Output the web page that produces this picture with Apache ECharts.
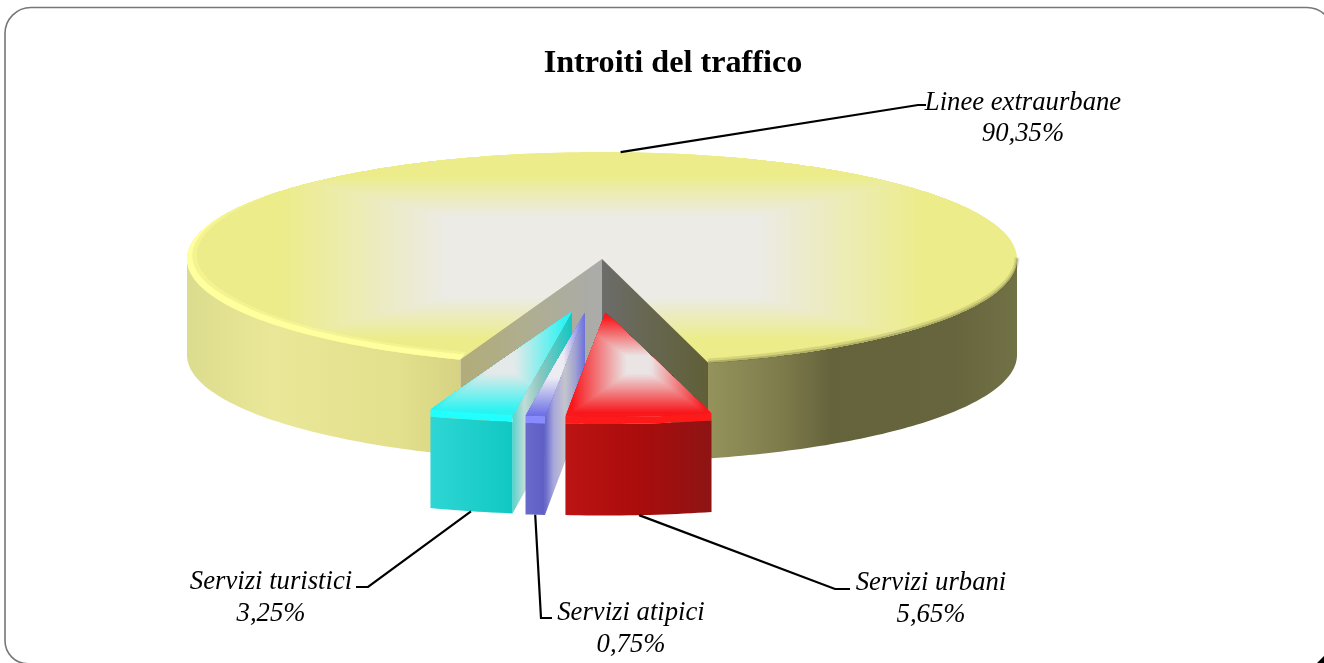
<!DOCTYPE html>
<html>
<head>
<meta charset="utf-8">
<style>html,body{margin:0;padding:0;background:#fff}#c{width:1324px;height:663px}</style>
<script src="https://cdn.jsdelivr.net/npm/echarts@6/dist/echarts.min.js"></script>
</head>
<body>
<div id="c"></div>
<script>
// ---- data (clockwise, starting from the right-hand cut of the big slice) ----
const categories = ['Servizi urbani', 'Servizi atipici', 'Servizi turistici', 'Linee extraurbane'];
const values = [5.65, 0.75, 3.25, 90.35];
const chartTitle = 'Introiti del traffico';

// ---- layout ----
const pie = {cx: 602, cy: 259, rx: 415, ry: 107, depth: 96, sliceDepth: 98.5, bevel: 7, start: 14.8};
const drawOrder = [3, 2, 1, 0];
const explode = [[3.5, 51], [-17, 51], [-30, 50], [0, 0]];
const labelAt = [[931, 599], [631, 629], [271, 598], [1023, 118.5]];
const knee = [[[835, 589], [850, 589]], [[541, 618], [552, 618]], [[368, 587], [356, 587]], [[918, 105], [926, 105]]];
const faces = [
  {edge: '#f8181c', mid: '#ebe4e4', inner: .16, outer: .9, bevel: '#ff1a1a',
   front: [[0, '#bc1414'], [.5, '#aa0c0c'], [1, '#8e1414']]},
  {edge: '#6f72e6', mid: '#ececf2', inner: .25, outer: .95, bevel: '#8a8aff',
   front: [[0, '#6a6acc'], [1, '#5e5ec4']],
   wall: [[0, '#6464cc'], [.22, '#a8a8dc'], [.5, '#c4c4cc'], [.75, '#a0a4d0'], [1, '#6c70dc']]},
  {edge: '#28f4f2', mid: '#e4e9e9', inner: .18, outer: .92, bevel: '#22ffff',
   front: [[0, '#2ed6d4'], [1, '#10c8c2']],
   wall: [[0, '#5ad2cc'], [.2, '#c0dcd8'], [.45, '#90c6c0'], [1, '#10c8c2']]},
  {edge: '#ecec8a', mid: '#ecebe6', inner: .38, outer: .78}
];

// ---- geometry from the values ----
const toRad = d => d * Math.PI / 180;
const total = values.reduce((a, b) => a + b, 0);
const sweeps = values.map(v => v / total * 360);
const bounds = [];
sweeps.reduce((from, s) => { bounds.push([from, from - s]); return from - s; }, pie.start);

function pt(tDeg, off, z) {
  return [pie.cx + off[0] + pie.rx * Math.sin(toRad(tDeg)),
          pie.cy + off[1] + pie.ry * Math.cos(toRad(tDeg)) + (z || 0)];
}
function arc(a, b, off, z) {
  const n = Math.max(2, Math.ceil(Math.abs(b - a)));
  const out = [];
  for (let i = 0; i <= n; i++) out.push(pt(a + (b - a) * i / n, off, z));
  return out;
}
const hex = c => [1, 3, 5].map(i => parseInt(c.substr(i, 2), 16));
function mix(c1, c2, k) {
  const a = hex(c1), b = hex(c2);
  return 'rgb(' + a.map((v, i) => Math.round(v + (b[i] - v) * k)).join(',') + ')';
}
const hGrad = (x0, x1, stops) => new echarts.graphic.LinearGradient(x0, 0, x1, 0,
  stops.map(s => ({offset: s[0], color: s[1]})), true);
const poly = (points, fill) => ({type: 'polygon', shape: {points}, style: {fill}, silent: true});

// rectangular path-gradient face, clipped to the polygon
function face(points, f) {
  const xs = points.map(p => p[0]), ys = points.map(p => p[1]);
  const x0 = Math.min(...xs), x1 = Math.max(...xs), y0 = Math.min(...ys), y1 = Math.max(...ys);
  const mx = (x0 + x1) / 2, my = (y0 + y1) / 2, hw = (x1 - x0) / 2, hh = (y1 - y0) / 2;
  const children = [];
  const steps = 60;
  for (let i = 0; i <= steps; i++) {
    const t = 1 - i / steps;
    const k = Math.min(1, Math.max(0, (t - f.inner) / (f.outer - f.inner)));
    children.push({type: 'rect',
      shape: {x: mx - hw * t - 1, y: my - hh * t - 1, width: hw * 2 * t + 2, height: hh * 2 * t + 2},
      style: {fill: mix(f.mid, f.edge, k)}, silent: true});
  }
  return {type: 'group', children, clipPath: {type: 'polygon', shape: {points}}};
}
function band(a, b, widthAt, off) {
  const n = Math.ceil(Math.abs(b - a));
  const outer = [], inner = [];
  for (let i = 0; i <= n; i++) {
    const t = a + (b - a) * i / n;
    const p = pt(t, off), w = widthAt(t);
    outer.push(p);
    inner.push([p[0] - w * Math.sin(toRad(t)) * 2, p[1] - w * Math.cos(toRad(t))]);
  }
  return outer.concat(inner.reverse());
}

function drawSlice(i) {
  const [a, b] = bounds[i];
  const off = explode[i], f = faces[i];
  const kids = [];
  if (i === 3) {
    const d = pie.depth;
    const apex = [pie.cx, pie.cy];
    const cutL = pt(a, off), cutR = pt(b, off);
    // outer wall, front-left and front-right
    kids.push(poly(arc(-90, a, off).concat(arc(a, -90, off, d)),
      hGrad(pt(-90, off)[0], cutL[0], [[0, '#dcdc8e'], [.32, '#eae898'], [.78, '#e2e08c'], [1, '#d6d282']])));
    kids.push(poly(arc(b + 360, 90, off).concat(arc(90, b + 360, off, d)),
      hGrad(cutR[0], pt(90, off)[0], [[0, '#95935b'], [.25, '#7c7a4a'], [.4, '#65633c'], [.8, '#67653d'], [1, '#717146']])));
    // top
    kids.push(face([apex].concat(arc(a, b, off)), f));
    // rim highlight on the left, soft shade on the right
    kids.push(poly(band(-128, a, t => 8 * Math.min(1, (t + 128) / 60), off), 'rgba(250,250,150,0.55)'));
    kids.push(poly(band(-115, a, t => 5.5 * Math.min(1, (t + 115) / 50), off), '#ffff9e'));
    kids.push({type: 'polyline', shape: {points: arc(b + 360, 90, off, -1.5)}, silent: true,
      style: {stroke: 'rgba(110,108,60,0.18)', lineWidth: 5, fill: null}});
    kids.push({type: 'polyline', shape: {points: arc(b + 360, 90, off, -.5)}, silent: true,
      style: {stroke: 'rgba(110,108,60,0.35)', lineWidth: 2, fill: null}});
    // cut walls
    kids.push(poly([apex, cutL, [cutL[0], cutL[1] + d], [apex[0], apex[1] + d]],
      hGrad(cutL[0], apex[0], [[0, '#b2ac78'], [.5, '#aeae92'], [1, '#ababab']])));
    kids.push(poly([apex, cutR, [cutR[0], cutR[1] + d], [apex[0], apex[1] + d]],
      hGrad(apex[0], cutR[0], [[0, '#6c6c6a'], [.5, '#66664e'], [1, '#605f38']])));
  } else {
    const d = pie.sliceDepth, bev = pie.bevel;
    const apex = [pie.cx + off[0], pie.cy + off[1]];
    const tip = [apex[0], apex[1] + 2.5];
    const cutL = pt(b, off), cutR = pt(a, off);
    if (f.wall) {
      kids.push(poly([tip, cutR, [cutR[0], cutR[1] + d], [apex[0], apex[1] + d]],
        hGrad(cutR[0], apex[0], f.wall)));
    }
    kids.push(face([tip].concat(arc(a, b, off)), f));
    kids.push(poly(arc(a, b, off).concat(arc(b, a, off, bev)), f.bevel));
    kids.push(poly(arc(a, b, off, bev).concat(arc(b, a, off, d)), hGrad(cutL[0], cutR[0], f.front)));
  }
  // leader + label
  const mid = (a + b) / 2;
  const start = i === 3 ? pt(mid, off) : pt(mid, off, pie.sliceDepth);
  kids.push({type: 'polyline', silent: true, shape: {points: [start].concat(knee[i])},
    style: {stroke: '#000', lineWidth: 2.2, fill: null}});
  kids.push({type: 'text', silent: true, x: labelAt[i][0], y: labelAt[i][1], style: {
    text: categories[i] + '\n' + values[i].toFixed(2).replace('.', ',') + '%',
    font: 'italic 26.7px "Liberation Serif"', lineHeight: 31.5, fill: '#000',
    align: 'center', verticalAlign: 'middle'}});
  return {type: 'group', children: kids};
}

const chart = echarts.init(document.getElementById('c'), null, {renderer: 'canvas'});
chart.setOption({
  animation: false,
  backgroundColor: '#ffffff',
  title: {text: chartTitle, left: 668, top: 43, textAlign: 'center',
    textStyle: {fontFamily: 'Liberation Serif', fontWeight: 'bold', fontSize: 32.2, color: '#000'}},
  graphic: [
    {type: 'polygon', silent: true, z: 0, shape: {points: [[1317, 663], [1324, 663], [1324, 656]]}, style: {fill: '#000'}},
    {type: 'rect', silent: true, z: 0,
      shape: {x: 5, y: 7.5, width: 1328, height: 656.3, r: [26, 26, 0, 23]},
      style: {fill: 'none', stroke: '#777', lineWidth: 1.6}}
  ],
  series: [{
    type: 'custom',
    coordinateSystem: 'none',
    silent: true,
    z: 5,
    clip: false,
    data: drawOrder.map(i => ({name: categories[i], value: values[i]})),
    renderItem: params => drawSlice(drawOrder[params.dataIndex])
  }]
});
</script>
</body>
</html>
